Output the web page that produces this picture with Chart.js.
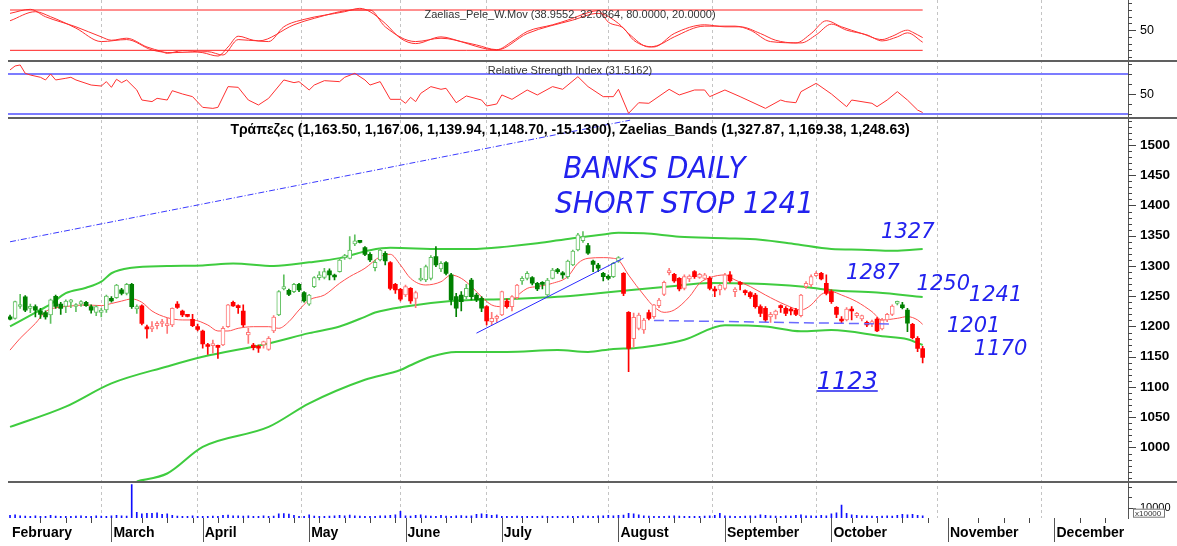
<!DOCTYPE html>
<html lang="el">
<head>
<meta charset="UTF-8">
<title>Τράπεζες - daily</title>
<script src="https://cdn.jsdelivr.net/npm/chart.js"></script>
<style>
  html, body { margin: 0; padding: 0; background: #fff; }
  #grafico { display: block; }
</style>
</head>
<body>
<canvas id="grafico" width="1177" height="546"></canvas>
<script>
// daily candles, one per trading day: [open, high, low, close]
const ohlc = [
  [1216,1219,1211,1212],[1213.5,1242,1212,1241],[1233,1253,1230,1236],[1249,1251,1224.5,1227],[1230,1237,1223,1233],
  [1233,1236,1216,1227],[1226,1230,1213.5,1220],[1223,1226,1212,1216],[1219,1245.5,1205,1244],[1250,1252,1230,1233],
  [1237,1240,1220,1230],[1233,1244,1223,1242],[1240,1245,1231,1244],[1233,1237.8,1224.5,1235.6],[1236.7,1243,1233,1241],
  [1240,1241.6,1233,1234.5],[1233,1235.6,1222,1227],[1223.4,1234.5,1218,1233],[1223.4,1230,1216,1227.3],[1227.3,1252,1223.4,1250.4],
  [1246.6,1249.3,1240,1242.2],[1247.7,1269.7,1246.6,1268.6],[1260.4,1263,1252,1254.8],[1254.8,1271.4,1252,1269.7],[1269.7,1271.4,1230,1232.8],
  [1229,1235.6,1221.8,1232.8],[1234,1235.6,1202.5,1205],[1199,1202.5,1180.5,1196],[1196,1208,1191.5,1199.7],[1201.4,1208,1196,1205.3],
  [1205,1212,1199.7,1206],[1201.4,1213.5,1188.7,1204.7],[1202.5,1231,1199.7,1230],[1237,1241,1230,1231.7],[1225.6,1227.3,1216.3,1219],
  [1219,1220,1215.7,1216.8],[1212,1220,1199.7,1201.4],[1199.7,1204,1192.6,1195.3],[1192.6,1194.2,1164,1171],[1168,1172,1154,1167],
  [1168.3,1177.7,1155.7,1169.4],[1166.7,1169.4,1147.4,1165.6],[1169.4,1199.7,1168.3,1196.9],[1199.7,1236.7,1198.6,1235.6],[1240,1242,1233,1234],
  [1232.8,1235.6,1221.8,1231.2],[1225.6,1235.6,1199.7,1202.5],[1186,1196.9,1172.2,1190.4],[1169.4,1172.2,1161.2,1165],[1166,1169.4,1157,1164],
  [1169.4,1176,1164,1175],[1162.3,1183.2,1160.6,1180.5],[1192.6,1218,1189.8,1215.7],[1219,1259.3,1218,1257.6],[1262,1285.2,1260.4,1265.9],
  [1259.8,1262,1251,1253.2],[1257.6,1271.4,1256,1269.7],[1269.7,1271.4,1257.6,1260.4],[1255.9,1257.6,1240,1242.2],[1236.7,1253,1235,1252.1],
  [1265.9,1282.4,1264,1280.7],[1280.7,1290.7,1276.9,1285.2],[1281.3,1296.2,1278.5,1290.7],[1291.8,1295.1,1276.9,1285.2],[1282.4,1286.8,1276.9,1281.8],
  [1290.7,1312.7,1289.6,1309.9],[1313.8,1319.3,1311,1317.1],[1312.7,1348.5,1311.6,1326.5],[1336.4,1351.3,1333.6,1341.4],[1341.9,1342.5,1338,1339.1],
  [1330.3,1332,1317.1,1319.3],[1319.3,1322.1,1307.2,1309.9],[1297.3,1309.9,1291.8,1306.1],[1309.9,1329.2,1308.3,1326.5],[1321,1323.7,1301.7,1308.3],
  [1305.5,1307.2,1260.4,1263.1],[1269.7,1271.4,1254.8,1260.4],[1261.5,1263.1,1242.2,1245],[1252.1,1268.6,1249.3,1265.9],[1263.1,1264.2,1238.3,1242.2],
  [1246.6,1258.7,1231.2,1255.9],[1276.9,1296.2,1275.2,1279.6],[1276.9,1301.7,1274.1,1298.9],[1279.6,1317.1,1276.9,1314.4],[1315.5,1332,1298.9,1301.7],
  [1295.1,1307.2,1290.7,1304.4],[1305.5,1307.2,1285.2,1287.9],[1285.2,1287.9,1235.6,1243.8],[1249.3,1254.8,1216.3,1230.1],[1252.1,1257.6,1225.6,1241.1],
  [1249.3,1269.7,1245.5,1263.1],[1276.9,1279.6,1243.8,1249.3],[1252.1,1254.8,1241.1,1243.8],[1246.6,1249.3,1224.5,1230.1],[1232.8,1234.5,1202.5,1209.1],
  [1208,1223.4,1202.5,1213.5],[1213.5,1219,1206.9,1214.6],[1219,1258.7,1217.9,1257.6],[1242.2,1245.5,1230.1,1232.8],[1232.8,1251,1225.6,1249.3],
  [1247.7,1269.7,1245.5,1268.6],[1275.2,1282.4,1269.7,1279.6],[1279.6,1290.7,1276.9,1287.9],[1280.7,1282.4,1268.6,1271.4],[1271.4,1273,1259.3,1262],
  [1270.5,1274.1,1262,1269.7],[1252.1,1279.6,1249.3,1276.9],[1279.6,1296.2,1278.5,1293.4],[1291.8,1296.2,1287.9,1290.7],[1287.9,1290.7,1279.6,1285.2],
  [1282.4,1309.9,1279.6,1308.3],[1301.7,1326.5,1300.6,1324.8],[1326.5,1354,1324.8,1351.3],[1341.9,1356.8,1339.1,1348.5],[1333.6,1337.5,1319.3,1321],
  [1308.3,1309.9,1290.7,1302.8],[1301.7,1304.4,1290.7,1296.2],[1287.9,1289.6,1275.2,1282.4],[1280.7,1285.2,1276.9,1279.6],[1282.4,1306.1,1280.7,1304.4],
  [1308.3,1315.5,1306,1313.8],[1287.9,1289,1251,1254.8],[1223.4,1224.5,1125.4,1163.9],[1180,1222,1166,1215],[1197,1222,1194.2,1219],
  [1194.2,1213.5,1188.7,1210.8],[1222.9,1227.3,1210.8,1213.5],[1216.3,1236.7,1213.5,1235.6],[1234.5,1246.6,1231.2,1243.8],[1253.2,1275.2,1251,1273],
  [1289,1296.2,1285.2,1289.6],[1286.3,1287.9,1273,1275.2],[1279.6,1280.7,1258.7,1262],[1263.1,1285.2,1260.4,1282.4],[1278.5,1285.2,1274.1,1283.5],
  [1290.7,1292.3,1279.6,1282.4],[1281.3,1287.9,1279.6,1286.3],[1279.6,1287.9,1276.9,1285.2],[1279.6,1282.4,1260.4,1263.1],[1260.4,1265.9,1249.3,1258.7],
  [1260.4,1269.7,1252.1,1268.6],[1263.1,1287.9,1260.4,1285.2],[1285.2,1290.7,1273,1275.2],[1257.6,1264.2,1249.3,1262],[1271.4,1274.1,1260.4,1269.7],
  [1257.6,1260.4,1252.1,1256],[1255.9,1257.6,1246.6,1249.3],[1252.1,1254.8,1230.1,1232.8],[1232.8,1235.6,1216.3,1221.8],[1230.1,1232.8,1208,1210.8],
  [1215.7,1223.4,1206.9,1220.1],[1219,1227.3,1212.4,1225.6],[1232.8,1235.6,1223.4,1231.2],[1230.1,1232.8,1217.9,1221.8],[1227.3,1231.2,1219,1225.6],
  [1227.3,1230.1,1217.9,1220.1],[1217.9,1253.2,1215.7,1252.1],[1265.9,1274.1,1263.1,1271.4],[1268.6,1285.2,1265.9,1282.4],[1284,1290.7,1282.4,1287.9],
  [1287.9,1289.6,1276.9,1278.5],[1271.4,1285.2,1252.1,1254.8],[1257.6,1260.4,1238.3,1241.1],[1231.7,1232.8,1214.6,1220.1],[1210.8,1216.3,1205.3,1209.1],
  [1210.8,1231.2,1209.1,1228.9],[1227.3,1232.8,1210.8,1225.6],[1217.9,1223.4,1214.6,1221.8],[1212.4,1219,1209.1,1217.9],[1206.9,1209.1,1199.7,1202.5],
  [1204.7,1210.8,1199.7,1208],[1212.4,1214.6,1191.5,1192.6],[1195.9,1213.5,1194.2,1210.8],[1210.8,1221.8,1208,1220.1],[1220.1,1235.6,1217.9,1233.9],
  [1238.3,1242.2,1235.6,1239.4],[1235.6,1240,1229,1231.2],[1227.3,1230.1,1191.5,1205.3],[1203.6,1205.3,1179.4,1181.6],[1180.5,1183.2,1158.4,1163.9],
  [1163.5,1167.06,1139.94,1148.7]
];

// trend state switches (day index, state) - colours the candles
const trendSwitch = [[0,'up'],[26,'down'],[53,'up'],[75,'down'],[81,'up'],[94,'down'],[101,'up'],[121,'down'],[175,'up'],[178,'down']];

// volume in units of 1 (axis shows x10000)
const volume = [
  2500,3000,2000,1800,1500,2000,1500,1600,2500,1800,1500,1700,1500,1800,2000,1600,1500,2200,1800,1600,
  2000,2500,2000,1800,32500,5500,4000,4500,4500,5000,3500,4000,2500,1800,1500,1500,2000,1700,
  1500,1600,1800,1500,2500,2800,2000,2200,1800,2000,1700,1500,2000,1600,1800,4000,4200,3800,2500,1600,1500,
  3000,1800,1600,1500,1800,2200,2500,2000,2800,2200,1800,1500,1700,1600,2000,2200,2500,3000,6500,
  2000,1800,2500,3000,2200,1800,1600,2500,1800,1500,2000,2400,1800,2000,3500,4000,3500,2500,3000,
  1500,1600,1500,1800,1500,1600,1700,1500,1800,1600,1500,1700,1600,1800,1500,1600,2000,1800,1700,2000,2200,2500,2200,
  2500,2800,4500,4000,3000,2000,1800,1700,1600,1500,1800,2000,1800,1700,1600,1500,1600,1800,2000,2500,4500,
  2000,1800,1700,1600,1800,2000,1800,3000,2500,2000,1800,1500,2200,1800,2500,3000,2200,2000,1800,2500,2000,
  4000,5000,12500,4500,3000,2500,2200,2000,1800,1600,1800,2000,1800,2500,3500,3000,3500,2500,2000
];

// Zaelias bands and moving average, [day, value]
const upperBand = [[0,1200],[5,1223],[8,1237],[11,1255],[15,1264],[18,1274],[20,1288],[24,1297],[31,1300],[38,1301],[44,1304],[52,1300],[59,1306],[65,1313],[71,1326],[75,1330],[85,1328],[91,1328],[98,1332],[104,1337.5],[111,1346],[117,1352],[120,1355],[125,1354],[132,1348.5],[141,1346],[148,1343.5],[155,1336],[162,1328],[168,1327],[174,1325],[178,1327],[180,1327.9]];
const middleBand = [[0,1034],[11,1067.5],[20,1106],[31,1134],[38,1150],[51,1172],[59,1189],[65,1200],[70,1216],[72,1223],[78,1233],[87,1242],[98,1245.5],[108,1249],[116,1255],[122,1260],[130,1266],[138,1272],[146,1271],[156,1266],[162,1260],[171,1256],[180,1248.6]];
const lowerBand = [[25,944],[31,957],[38,1001],[51,1034],[59,1073],[70,1112],[77,1128],[79,1136],[83,1150],[88,1158],[98,1158],[108,1161],[114,1158],[119,1163],[123,1164],[127,1168],[133,1178],[141,1202],[149,1200],[156,1192],[162,1194],[172,1184],[177,1179],[180,1169.4]];
const movAvg = [[0,1161],[2,1180.5],[5,1205],[7,1224.5],[9,1231],[11,1233],[15,1235.6],[18,1234.5],[20,1238],[22,1242],[24,1245.5],[26,1240],[28,1225.6],[31,1214.6],[34,1210.8],[36,1210.8],[39,1202.5],[41,1192.6],[43,1192.6],[45,1197],[48,1199.7],[51,1199.7],[53,1197],[55,1208],[57,1227.3],[59,1243.8],[62,1252],[65,1271.4],[67,1282.4],[70,1296.2],[73,1315.5],[75,1319.3],[77,1301.7],[79,1279.6],[82,1268.6],[85,1274],[87,1285],[89,1279.6],[91,1266],[93,1249],[95,1235.6],[97,1232.8],[99,1243.8],[102,1263],[104,1266],[107,1271.4],[110,1282.4],[112,1304.4],[114,1312.7],[117,1313.8],[119,1312.7],[120,1310],[122,1285],[125,1252],[127,1232.8],[129,1223.4],[131,1227.3],[134,1249.3],[136,1271.4],[138,1280.7],[141,1285.2],[143,1276.9],[146,1266],[149,1252],[153,1235.6],[156,1227.3],[158,1235.6],[160,1253],[162,1257.6],[164,1252],[167,1241],[170,1224.5],[172,1210.8],[175,1213.5],[177,1216.3],[179,1210.8],[180,1203.6]];

// Zaelias_Pele_W.Mov (two lines) and RSI
const peleFast = [[0,75],[4,81],[7,70],[13,55],[18,40],[20,35],[23,38],[27,25],[30,18],[31,15.5],[34,19.5],[38,16.5],[41,11.5],[43,25],[45,41],[48,35],[51,33],[54,55],[58,66],[66,77.5],[69,82.5],[71,77.5],[74,60],[77,38],[80,30],[85,40],[89,33],[92,28],[96,21],[99,33],[102,48],[107,58],[110,65],[114,76],[116,79],[118,62],[121,53],[123,35],[127,25],[131,45],[137,58],[141,55],[144,55],[148,45],[151,35],[155,31],[158,45],[161,64],[164,55],[168,45],[172,36],[174,41],[177,50],[178,47],[180,38.96]];
const peleSlow = [[0,64],[5,77.5],[8,70],[13,53],[18,33],[23,36],[28,20.5],[32,16.5],[39,18],[42,13],[45,36],[49,34],[56,58],[60,67.6],[68,80],[71,80],[74,55],[80,33],[85,38],[96,20.5],[102,45],[111,65],[116,75],[120,60],[122,45],[126,25],[128,28],[131,40],[137,56],[143,56],[146,50],[150,33],[156,31],[159,43],[162,59],[165,50],[169,43],[172,34],[175,40],[177,46],[180,32.09]];
const rsi = [[0,74.4],[1,78.4],[2,79.4],[3,71],[4,69.3],[6,67],[7,64.3],[8,70.3],[9,64.3],[11,66],[12,67],[13,64.3],[16,59.2],[18,58.2],[19,62.6],[20,56.9],[21,65],[22,61.6],[23,64.3],[25,54.2],[26,44.1],[28,42.5],[29,45.8],[31,44.1],[32,53.5],[34,50.2],[36,47.5],[38,36.7],[40,35.7],[41,36.7],[43,57.6],[45,56.9],[47,44.1],[49,39.1],[51,45.8],[54,64.3],[56,61.6],[57,62.6],[59,54.2],[60,59.2],[62,63.6],[65,62.6],[66,67],[68,71],[70,64.3],[71,59.2],[73,62.6],[75,44.8],[77,44.8],[78,40.8],[79,46.8],[80,42.5],[81,50.8],[83,57.6],[85,54.9],[86,55.9],[88,41.4],[90,48.2],[93,44.1],[94,38.1],[96,40.1],[97,49.2],[99,44.8],[102,54.2],[104,49.2],[107,57.6],[109,54.9],[112,67.6],[114,57.6],[117,47.5],[119,47.5],[120,54.9],[122,30.7],[124,41.4],[126,40.8],[130,54.9],[132,49.2],[135,54.2],[137,54.2],[138,47.5],[141,54.2],[144,47.5],[149,35.7],[152,44.1],[153,42.5],[155,41.4],[156,52.5],[159,60.9],[162,50.2],[165,37.4],[166,44.1],[170,40.8],[171,37.4],[173,44.1],[175,52.5],[177,44.1],[179,34],[180,31.52]];
const peleLevels = [80, 20];
const rsiLevels = [70, 30];

// hand drawn lines on the price panel, [day, price]
const dashDotLine = [[0,1340],[122.3,1541]];
const risingTrend = [[92,1189],[121,1313]];
const supportLine = [[127,1210],[174,1204]];

// axis labels
const monthNames = ['February','March','April','May','June','July','August','September','October','November','December'];
const monthFirstDay = [0,20,38,59,78,97,120,141,162,185,206];
const priceLabels = [1000,1050,1100,1150,1200,1250,1300,1350,1400,1450,1500];

const titles = {
  pele: 'Zaelias_Pele_W.Mov (38.9552, 32.0864, 80.0000, 20.0000)',
  rsi: 'Relative Strength Index (31.5162)',
  main: 'Τράπεζες (1,163.50, 1,167.06, 1,139.94, 1,148.70, -15.1300), Zaelias_Bands (1,327.87, 1,169.38, 1,248.63)'
};

// handwritten notes, placed at [day, price]
const notes = [
  { text: 'BANKS DAILY', at: [109.1, 1445.5], big: true },
  { text: 'SHORT STOP 1241', at: [107.5, 1387.6], big: true },
  { text: '1327', at: [171.8, 1346.3] },
  { text: '1287', at: [164.9, 1278.5] },
  { text: '1250', at: [178.8, 1260.3] },
  { text: '1241', at: [189.1, 1242.1] },
  { text: '1201', at: [184.8, 1190.9] },
  { text: '1170', at: [190.1, 1153] },
  { text: '1123', at: [159.1, 1096.7], underline: true }
];

// ---------------------------------------------------------------
const pts = arr => arr.map(([x, y]) => ({ x, y }));

function trendAt(i) {
  let t = 'up';
  for (const [start, state] of trendSwitch) if (i >= start) t = state;
  return t;
}
const COLORS = {
  up:   { solid: '#008000', hollow: '#60c060' },
  down: { solid: '#ff0000', hollow: '#ff7878' }
};
function isFilled(i) { return ohlc[i][3] < ohlc[i][0]; }
function candleColor(i) {
  const c = COLORS[trendAt(i)];
  return isFilled(i) ? c.solid : c.hollow;
}

function lineSet(data, axis, color, width, extra) {
  return Object.assign({
    type: 'line', data: pts(data), yAxisID: axis, borderColor: color, borderWidth: width,
    pointRadius: 0, fill: false, tension: 0
  }, extra || {});
}

// x ticks: month starts plus weekly marks
const xTicks = monthFirstDay.slice();
for (let d = 1; d < 221; d += 5) {
  if (!monthFirstDay.some(m => Math.abs(m - d) < 2)) xTicks.push(d);
}
xTicks.sort((a, b) => a - b);

function range(a, b, step) { const r = []; for (let v = a; v <= b + 1e-9; v += step) r.push(v); return r; }

function yAxis(min, max, weight, ticks, labelOf, font, grid) {
  return {
    type: 'linear', position: 'right', stack: 'panels', stackWeight: weight,
    min, max, bounds: 'data', offset: false,
    afterBuildTicks: s => { s.ticks = ticks.map(v => ({ value: v })); },
    afterFit: s => { s.width = 49; s.paddingTop = 0; s.paddingBottom = 0; },
    ticks: { autoSkip: false, padding: 12, font, color: '#000', callback: v => labelOf(v) },
    grid: grid || { display: false, drawTicks: false },
    border: { display: true, color: '#555', width: 1 }
  };
}

const plainFont = { family: 'Liberation Sans, Arial, sans-serif', size: 12.5 };
const boldFont = { family: 'Liberation Sans, Arial, sans-serif', size: 13.5, weight: 'bold' };

const labelSets = {
  yPele: v => (v === 50 ? '50' : ''),
  yRsi: v => (v === 50 ? '50' : ''),
  yMain: v => (priceLabels.includes(v) ? String(v) : ''),
  yVol: v => (v === 10000 ? '10000' : '')
};

const decor = {
  id: 'decor',
  afterDraw(chart) {
    const { ctx, chartArea, scales } = chart;
    const W = chart.width;
    ctx.save();

    // panel separators
    ctx.strokeStyle = '#606060';
    ctx.lineWidth = 2;
    ['yRsi', 'yMain', 'yVol'].forEach(id => {
      const y = Math.round(scales[id].top);
      ctx.beginPath(); ctx.moveTo(chartArea.left, y); ctx.lineTo(W, y); ctx.stroke();
    });

    // y tick marks
    ctx.lineWidth = 1;
    ctx.strokeStyle = '#444';
    ['yPele', 'yRsi', 'yMain', 'yVol'].forEach(id => {
      const s = scales[id];
      s.ticks.forEach(t => {
        const y = Math.round(s.getPixelForValue(t.value)) + 0.5;
        const len = labelSets[id](t.value) ? 8 : 4;
        ctx.beginPath(); ctx.moveTo(chartArea.right, y); ctx.lineTo(chartArea.right + len, y); ctx.stroke();
      });
    });

    // x tick marks
    const sx = scales.x;
    sx.ticks.forEach(t => {
      const month = monthFirstDay.indexOf(t.value);
      if (month === 0) return;
      const x = Math.round(sx.getPixelForValue(t.value)) + 0.5;
      const len = month > 0 ? 24 : 5;
      ctx.strokeStyle = month > 0 ? '#555' : '#444';
      ctx.beginPath(); ctx.moveTo(x, chartArea.bottom); ctx.lineTo(x, chartArea.bottom + len); ctx.stroke();
    });

    // panel titles
    const cx = (chartArea.left + chartArea.right) / 2 + 2;
    ctx.textAlign = 'center';
    ctx.textBaseline = 'middle';
    ctx.fillStyle = '#333';
    ctx.font = '11px "Liberation Sans", Arial, sans-serif';
    ctx.fillText(titles.pele, cx, scales.yPele.top + 15);
    ctx.fillText(titles.rsi, cx, scales.yRsi.top + 10);
    ctx.fillStyle = '#000';
    ctx.font = 'bold 14px "Liberation Sans", Arial, sans-serif';
    ctx.fillText(titles.main, cx, scales.yMain.top + 12);

    // volume multiplier box
    const yv = scales.yVol.getPixelForValue(10000);
    ctx.fillStyle = '#fff';
    ctx.fillRect(chartArea.right + 5, yv + 1, 32, 9);
    ctx.strokeStyle = '#777';
    ctx.strokeRect(chartArea.right + 5.5, yv + 1.5, 31, 8);
    ctx.fillStyle = '#333';
    ctx.font = '8px "Liberation Sans", Arial, sans-serif';
    ctx.textAlign = 'left';
    ctx.fillText('x10000', chartArea.right + 7, yv + 6);

    // handwritten notes
    const sy = scales.yMain;
    ctx.fillStyle = '#2222ee';
    ctx.strokeStyle = '#2222ee';
    ctx.textBaseline = 'alphabetic';
    notes.forEach(n => {
      const x = sx.getPixelForValue(n.at[0]);
      const y = sy.getPixelForValue(n.at[1]);
      ctx.font = n.big ? 'italic 200 29px "DejaVu Sans", sans-serif'
                       : (n.underline ? 'italic 200 24px "DejaVu Sans", sans-serif'
                                      : 'italic 200 21px "DejaVu Sans", sans-serif');
      if (n.big) {
        ctx.save();
        ctx.translate(x, y);
        ctx.scale(0.96, 1.05);
        ctx.fillText(n.text, 0, 0);
        ctx.restore();
      } else {
        ctx.fillText(n.text, x, y);
      }
      if (n.underline) {
        const w = ctx.measureText(n.text).width;
        ctx.lineWidth = 1.5;
        ctx.beginPath(); ctx.moveTo(x, y + 2); ctx.lineTo(x + w, y + 2); ctx.stroke();
      }
    });
    ctx.restore();
  }
};

const canvas = document.getElementById('grafico').getContext('2d');

const grafico = new Chart(canvas, {
  type: 'bar',
  data: {
    datasets: [
      // hand drawn lines
      lineSet(dashDotLine, 'yMain', '#3a3aff', 1, { borderDash: [6, 2, 1, 2], order: 0 }),
      lineSet(risingTrend, 'yMain', '#2a2aff', 1, { order: 0 }),
      lineSet(supportLine, 'yMain', '#6a6aff', 1.5, { borderDash: [10, 5], order: 0 }),
      // candle bodies
      {
        type: 'bar', yAxisID: 'yMain', order: 2, grouped: false,
        data: ohlc.map((d, i) => ({ x: i, y: [Math.min(d[0], d[3]), Math.max(d[0], d[3])] })),
        barThickness: 4, minBarLength: 2, borderSkipped: false,
        backgroundColor: c => (isFilled(c.dataIndex) ? candleColor(c.dataIndex) : '#ffffff'),
        borderColor: c => candleColor(c.dataIndex),
        borderWidth: c => (isFilled(c.dataIndex) ? 0 : 1)
      },
      // wicks
      {
        type: 'bar', yAxisID: 'yMain', order: 3, grouped: false,
        data: ohlc.map((d, i) => ({ x: i, y: [d[2], d[1]] })),
        barThickness: 1, borderWidth: 0,
        backgroundColor: c => candleColor(c.dataIndex)
      },
      // bands and average
      lineSet(movAvg, 'yMain', '#ff5050', 1, { cubicInterpolationMode: 'monotone', order: 4 }),
      lineSet(upperBand, 'yMain', '#3fcc3f', 2, { cubicInterpolationMode: 'monotone', order: 5 }),
      lineSet(middleBand, 'yMain', '#3fcc3f', 2, { cubicInterpolationMode: 'monotone', order: 5 }),
      lineSet(lowerBand, 'yMain', '#3fcc3f', 2, { cubicInterpolationMode: 'monotone', order: 5 }),
      // volume
      {
        type: 'bar', yAxisID: 'yVol', order: 6, grouped: false,
        data: volume.map((v, i) => ({ x: i, y: v })),
        barThickness: 1, backgroundColor: '#1010ff', borderWidth: 0
      },
      // oscillators
      lineSet([[0, peleLevels[0]], [180, peleLevels[0]]], 'yPele', '#ff2020', 1),
      lineSet([[0, peleLevels[1]], [180, peleLevels[1]]], 'yPele', '#ff2020', 1),
      lineSet(peleFast, 'yPele', '#ff3030', 1, { cubicInterpolationMode: 'monotone' }),
      lineSet(peleSlow, 'yPele', '#ff3030', 1, { cubicInterpolationMode: 'monotone' }),
      lineSet(rsi, 'yRsi', '#ff3030', 1)
    ]
  },
  options: {
    responsive: false,
    animation: false,
    devicePixelRatio: 1,
    events: [],
    layout: { padding: { left: 8, right: 0, top: 0, bottom: 0 } },
    plugins: { legend: { display: false }, tooltip: { enabled: false } },
    scales: {
      x: {
        type: 'linear', position: 'bottom', min: -0.4, max: 220.5, bounds: 'data', offset: false,
        afterBuildTicks: s => { s.ticks = xTicks.map(v => ({ value: v })); },
        afterFit: s => { s.height = 28; s.paddingLeft = 0; s.paddingRight = 0; },
        ticks: {
          autoSkip: false, maxRotation: 0, align: 'start', labelOffset: 2, padding: 7,
          color: '#000', font: { family: 'Liberation Sans, Arial, sans-serif', size: 14, weight: 'bold' },
          callback: v => { const m = monthFirstDay.indexOf(v); return m >= 0 ? monthNames[m] : ''; }
        },
        grid: {
          drawTicks: false, lineWidth: 1,
          color: c => (c.tick && c.tick.value > 0 && monthFirstDay.includes(c.tick.value) ? '#c4c4c4' : 'rgba(0,0,0,0)')
        },
        border: { display: false, dash: [3, 3] }
      },
      yPele: yAxis(4.1, 94.9, 61, range(10, 90, 10), labelSets.yPele, plainFont),
      yRsi: yAxis(26, 83.4, 57, range(30, 80, 10), labelSets.yRsi, plainFont, {
        display: true, drawTicks: false, drawOnChartArea: true, lineWidth: 2,
        color: c => (c.tick && rsiLevels.includes(c.tick.value) ? '#7c7cff' : 'rgba(0,0,0,0)')
      }),
      yMain: yAxis(943.8, 1544.6, 363.5, range(950, 1540, 10), labelSets.yMain, boldFont),
      yVol: yAxis(0, 35400, 36.5, [10000, 20000, 30000], labelSets.yVol, { family: 'Liberation Sans, Arial, sans-serif', size: 11 })
    }
  },
  plugins: [decor]
});
</script>
</body>
</html>
